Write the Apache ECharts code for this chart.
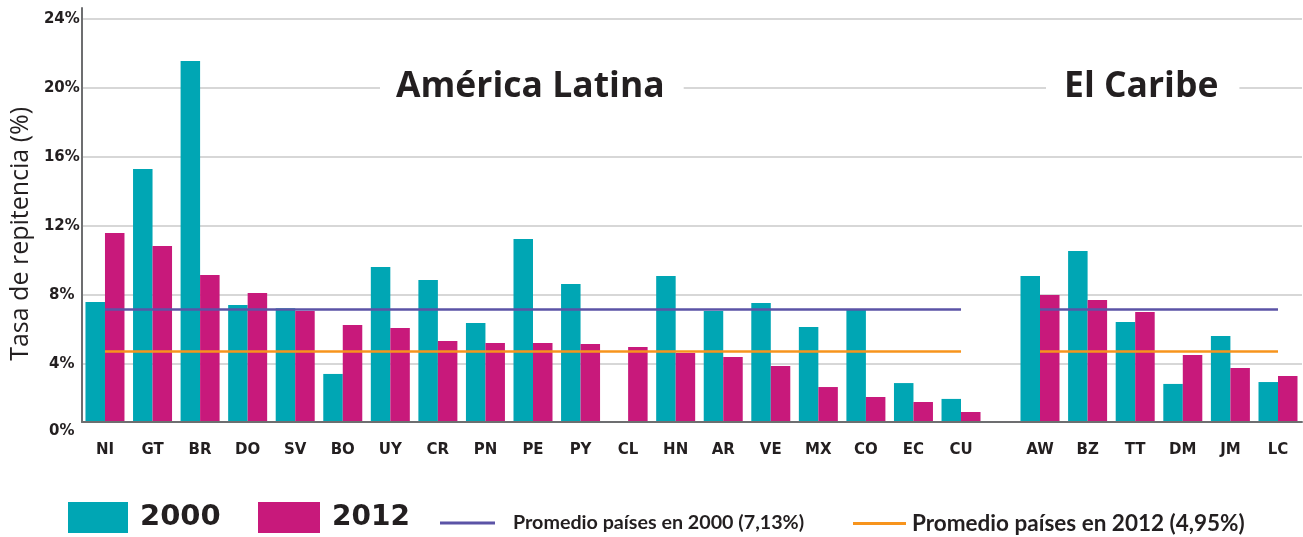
<!DOCTYPE html>
<html>
<head>
<meta charset="utf-8">
<script src="https://cdn.jsdelivr.net/npm/echarts@6/dist/echarts.min.js"></script>
<style>
  html, body { margin: 0; padding: 0; background: #fff; }
  #chart { width: 1303px; height: 537px; }
</style>
</head>
<body>
<div id="chart"></div>
<script>
// ---- data ----
const latinCats = ['NI','GT','BR','DO','SV','BO','UY','CR','PN','PE','PY','CL','HN','AR','VE','MX','CO','EC','CU'];
const latin2000 = [7.58, 15.30, 21.57, 7.40, 7.21, 3.40, 9.61, 8.86, 6.36, 11.24, 8.62, null, 9.09, 7.06, 7.52, 6.13, 7.17, 2.87, 1.95];
const latin2012 = [11.59, 10.83, 9.15, 8.10, 7.06, 6.24, 6.07, 5.31, 5.20, 5.20, 5.14, 4.97, 4.62, 4.38, 3.86, 2.64, 2.06, 1.77, 1.19];
const caribCats = ['AW','BZ','TT','DM','JM','LC'];
const carib2000 = [9.09, 10.54, 6.42, 2.82, 5.60, 2.93];
const carib2012 = [7.99, 7.69, 7.00, 4.50, 3.75, 3.28];
const yTicks = [0, 4, 8, 12, 16, 20, 24];
const seriesNames = ['2000', '2012'];
const avgValues = [7.17, 4.73];
const avgLabels = ['Promedio países en 2000 (7,13%)', 'Promedio países en 2012 (4,95%)'];
const regionTitles = ['América Latina', 'El Caribe'];
const axisTitle = 'Tasa de repitencia (%)';

// ---- style / layout ----
const TEAL = '#00a6b4', MAGENTA = '#c8197b', PURPLE = '#5b53a6', ORANGE = '#f7941d';
const TXT = '#231f20', AXIS = '#6d6e70', GRIDC = '#cacaca';
const Y_BASE = 0.627, Y_MAX = 24.65;  // baseline of the original drawing sits slightly above 0
const GT = 8, GB = 115.3;

const yHidden = (gi) => ({ gridIndex: gi, type: 'value', min: Y_BASE, max: Y_MAX, show: false });
const catAxis = (gi, cats) => ({
  gridIndex: gi, type: 'category', data: cats,
  axisLine: { show: false }, axisTick: { show: false },
  axisLabel: { margin: 21, fontFamily: 'DejaVu Sans', fontWeight: 'bold', fontSize: 15, color: TXT, interval: 0 }
});
const barSeries = (name, gi, data, color) => ({
  type: 'bar', name: name, xAxisIndex: gi, yAxisIndex: gi, data: data,
  barWidth: 19.5, barGap: '0%', itemStyle: { color: color }, color: color, z: 2
});
const avgSeries = (idx, gi, cats, color) => ({
  type: 'line', name: avgLabels[idx], xAxisIndex: gi, yAxisIndex: gi, data: [], color: color,
  markLine: {
    silent: true, symbol: ['none', 'none'], label: { show: false }, z: 5,
    lineStyle: { color: color, width: 2.5, type: 'solid' },
    data: [[{ coord: [cats[0], avgValues[idx]] }, { coord: [cats[cats.length - 1], avgValues[idx]] }]]
  }
});

const chart = echarts.init(document.getElementById('chart'), null, { renderer: 'canvas' });
chart.setOption({
  animation: false,
  backgroundColor: '#fff',
  title: [
    { text: regionTitles[0], left: 380, top: 69, padding: [0, 19, 0, 16], backgroundColor: '#fff',
      textStyle: { fontFamily: 'Open Sans', fontWeight: 'bold', fontSize: 35.5, color: TXT } },
    { text: regionTitles[1], left: 1046, top: 69, padding: [0, 21, 0, 18], backgroundColor: '#fff',
      textStyle: { fontFamily: 'Open Sans', fontWeight: 'bold', fontSize: 35.5, color: TXT } }
  ],
  grid: [
    { left: 81, right: 1, top: GT, bottom: GB },
    { left: 81.2, width: 903.6, top: GT, bottom: GB },
    { left: 1016.2, width: 285.6, top: GT, bottom: GB }
  ],
  xAxis: [
    { gridIndex: 0, type: 'category', data: [''], z: 3,
      axisLine: { show: true, lineStyle: { color: AXIS, width: 2 } },
      axisTick: { show: false }, axisLabel: { show: false }, splitLine: { show: false } },
    catAxis(1, latinCats),
    catAxis(2, caribCats)
  ],
  yAxis: [
    { gridIndex: 0, type: 'value', min: Y_BASE, max: Y_MAX,
      name: axisTitle, nameLocation: 'middle', nameRotate: 90, nameGap: 47,
      nameTextStyle: { fontFamily: 'Open Sans', fontSize: 25, color: TXT, padding: [0, 38, 0, 0] },
      axisLine: { show: true, lineStyle: { color: AXIS, width: 2 } },
      axisTick: { show: false, customValues: yTicks.slice(1) },
      splitLine: { show: true, lineStyle: { color: GRIDC, width: 1.5 } },
      axisLabel: {
        customValues: yTicks.map(t => t === 0 ? Y_BASE : t),
        align: 'center', margin: 20,
        fontFamily: 'DejaVu Sans', fontWeight: 'bold', fontSize: 15, color: TXT,
        formatter: v => v === Y_BASE ? '{z|' + yTicks[0] + '%}' : v + '%',
        rich: { z: { fontFamily: 'DejaVu Sans', fontWeight: 'bold', fontSize: 15, color: TXT, padding: [19, 0, 0, 0] } }
      } },
    yHidden(1),
    yHidden(2)
  ],
  legend: [
    { data: [{ name: seriesNames[0], icon: 'rect' }], left: 68, top: 502, padding: 0, itemWidth: 60, itemHeight: 31, selectedMode: false,
      textStyle: { fontFamily: 'DejaVu Sans', fontWeight: 'bold', fontSize: 29, color: TXT, padding: [0, 0, 0, 7] } },
    { data: [{ name: seriesNames[1], icon: 'rect' }], left: 258, top: 502, padding: 0, itemWidth: 62, itemHeight: 31, selectedMode: false,
      textStyle: { fontFamily: 'DejaVu Sans', fontWeight: 'bold', fontSize: 28, color: TXT, padding: [0, 0, 0, 7] } },
    { data: [{ name: avgLabels[0], icon: 'rect', itemStyle: { color: PURPLE } }], left: 440, top: 513, padding: 0, itemWidth: 55, itemHeight: 3, selectedMode: false,
      textStyle: { fontFamily: 'Lato', fontWeight: 'bold', fontSize: 19.7, color: TXT, padding: [0, 0, 0, 13] } },
    { data: [{ name: avgLabels[1], icon: 'rect', itemStyle: { color: ORANGE } }], left: 853, top: 512, padding: 0, itemWidth: 53, itemHeight: 3, selectedMode: false,
      textStyle: { fontFamily: 'Lato', fontWeight: 'bold', fontSize: 22.5, color: TXT, padding: [0, 0, 0, 1] } }
  ],
  series: [
    barSeries(seriesNames[0], 1, latin2000, TEAL),
    barSeries(seriesNames[1], 1, latin2012, MAGENTA),
    barSeries(seriesNames[0], 2, carib2000, TEAL),
    barSeries(seriesNames[1], 2, carib2012, MAGENTA),
    avgSeries(0, 1, latinCats, PURPLE),
    avgSeries(1, 1, latinCats, ORANGE),
    avgSeries(0, 2, caribCats, PURPLE),
    avgSeries(1, 2, caribCats, ORANGE)
  ]
});
</script>
</body>
</html>
